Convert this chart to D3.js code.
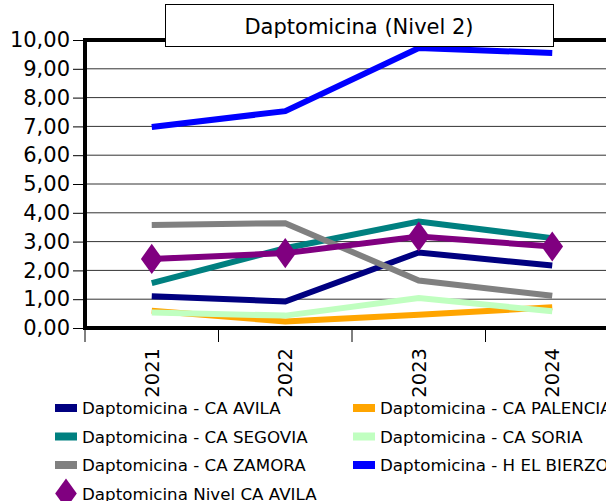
<!DOCTYPE html>
<html lang="en">
<head>
    <meta charset="UTF-8">
    <title>Daptomicina (Nivel 2)</title>
    <script src="https://d3js.org/d3.v7.min.js"></script>
    <style>
        body { margin: 0; background: #fff; }
        text { font-family: "DejaVu Sans", sans-serif; }
    </style>
</head>
<body>
    <svg width="606" height="501"></svg>
</body>
<script>
    let years = ['2021', '2022', '2023', '2024']
    let yTicks = [0, 1, 2, 3, 4, 5, 6, 7, 8, 9, 10]

    let avila = [1.10, 0.92, 2.62, 2.17]
    let palencia = [0.60, 0.23, 0.46, 0.72]
    let segovia = [1.56, 2.77, 3.70, 3.12]
    let soria = [0.54, 0.43, 1.04, 0.58]
    let zamora = [3.58, 3.64, 1.65, 1.12]
    let bierzo = [6.98, 7.53, 9.72, 9.55]
    let nivelAvila = [2.40, 2.60, 3.18, 2.83]

    let series = [
        {name: 'Daptomicina - CA AVILA', values: avila, color: '#000080'},
        {name: 'Daptomicina - CA PALENCIA', values: palencia, color: '#FFA500'},
        {name: 'Daptomicina - CA SEGOVIA', values: segovia, color: '#008080'},
        {name: 'Daptomicina - CA SORIA', values: soria, color: '#C0FFC0'},
        {name: 'Daptomicina - CA ZAMORA', values: zamora, color: '#808080'},
        {name: 'Daptomicina - H EL BIERZO', values: bierzo, color: '#0000FF'},
        {name: 'Daptomicina Nivel CA AVILA', values: nivelAvila, color: '#800080', marker: true}
    ]

    let svg = d3.select('svg')
    let pLeft = 85, pRight = 619, pTop = 40, pBottom = 328

    let x = d3.scaleBand().domain(years).range([pLeft, pRight])
    let y = d3.scaleLinear().domain([0, 10]).range([pBottom, pTop])
    let fmt = d => d.toFixed(2).replace('.', ',')

    // gridlines
    svg.append('g')
        .selectAll('line')
        .data(yTicks)
        .join('line')
        .attr('x1', pLeft).attr('x2', 606)
        .attr('y1', d => y(d)).attr('y2', d => y(d))
        .attr('stroke', '#333').attr('stroke-width', 1)

    // y axis
    let yAxis = svg.append('g')
        .attr('transform', `translate(${pLeft},0)`)
        .call(d3.axisLeft(y).tickValues(yTicks).tickFormat(fmt).tickSize(12).tickPadding(3))
    yAxis.select('.domain').remove()
    yAxis.selectAll('line').attr('stroke', '#000')
    yAxis.selectAll('text').attr('font-size', 21).attr('fill', '#000')
        .attr('font-family', '"DejaVu Sans", sans-serif')

    // x axis ticks at category boundaries
    svg.append('g')
        .selectAll('line')
        .data(years)
        .join('line')
        .attr('x1', d => x(d)).attr('x2', d => x(d))
        .attr('y1', pBottom).attr('y2', pBottom + 14)
        .attr('stroke', '#000')

    svg.append('g')
        .selectAll('text')
        .data(years)
        .join('text')
        .attr('transform', d => `translate(${x(d) + x.bandwidth() / 2 + 7},${pBottom + 20}) rotate(-90)`)
        .attr('text-anchor', 'end')
        .attr('font-size', 19.5)
        .text(d => d)

    // thick frame
    svg.append('path')
        .attr('d', `M${606},${pTop}H${pLeft}V${pBottom}H606`)
        .attr('fill', 'none')
        .attr('stroke', '#000')
        .attr('stroke-width', 4)

    // lines
    let line = d3.line()
        .x((d, i) => x(years[i]) + x.bandwidth() / 2)
        .y(d => y(d))

    svg.append('g')
        .selectAll('path')
        .data(series)
        .join('path')
        .attr('d', d => line(d.values))
        .attr('fill', 'none')
        .attr('stroke', d => d.color)
        .attr('stroke-width', 6)

    let diamond = d3.symbol().type(d3.symbolDiamond).size(260)
    svg.append('g')
        .selectAll('path')
        .data(nivelAvila)
        .join('path')
        .attr('d', diamond)
        .attr('transform', (d, i) => `translate(${x(years[i]) + x.bandwidth() / 2},${y(d)}) scale(1.25,1)`)
        .attr('fill', '#800080')

    // title box
    svg.append('rect')
        .attr('x', 165.5).attr('y', 4.5)
        .attr('width', 388).attr('height', 42)
        .attr('fill', '#fff').attr('stroke', '#000')
    svg.append('text')
        .attr('x', 359).attr('y', 34)
        .attr('text-anchor', 'middle')
        .attr('font-size', 21)
        .text('Daptomicina (Nivel 2)')

    // legend
    let legend = svg.append('g')
        .selectAll('g')
        .data(series)
        .join('g')
        .attr('transform', (d, i) => `translate(${i % 2 ? 353 : 55},${408 + Math.floor(i / 2) * 28.5})`)

    legend.filter(d => !d.marker).append('rect')
        .attr('x', 0).attr('y', -4)
        .attr('width', 22).attr('height', 8)
        .attr('fill', d => d.color)
    legend.filter(d => d.marker).append('path')
        .attr('d', diamond)
        .attr('transform', 'translate(11,0) scale(1.25,1)')
        .attr('fill', '#800080')
    legend.append('text')
        .attr('x', 27).attr('y', 6)
        .attr('font-size', 16.7)
        .text(d => d.name)
</script>
</html>
